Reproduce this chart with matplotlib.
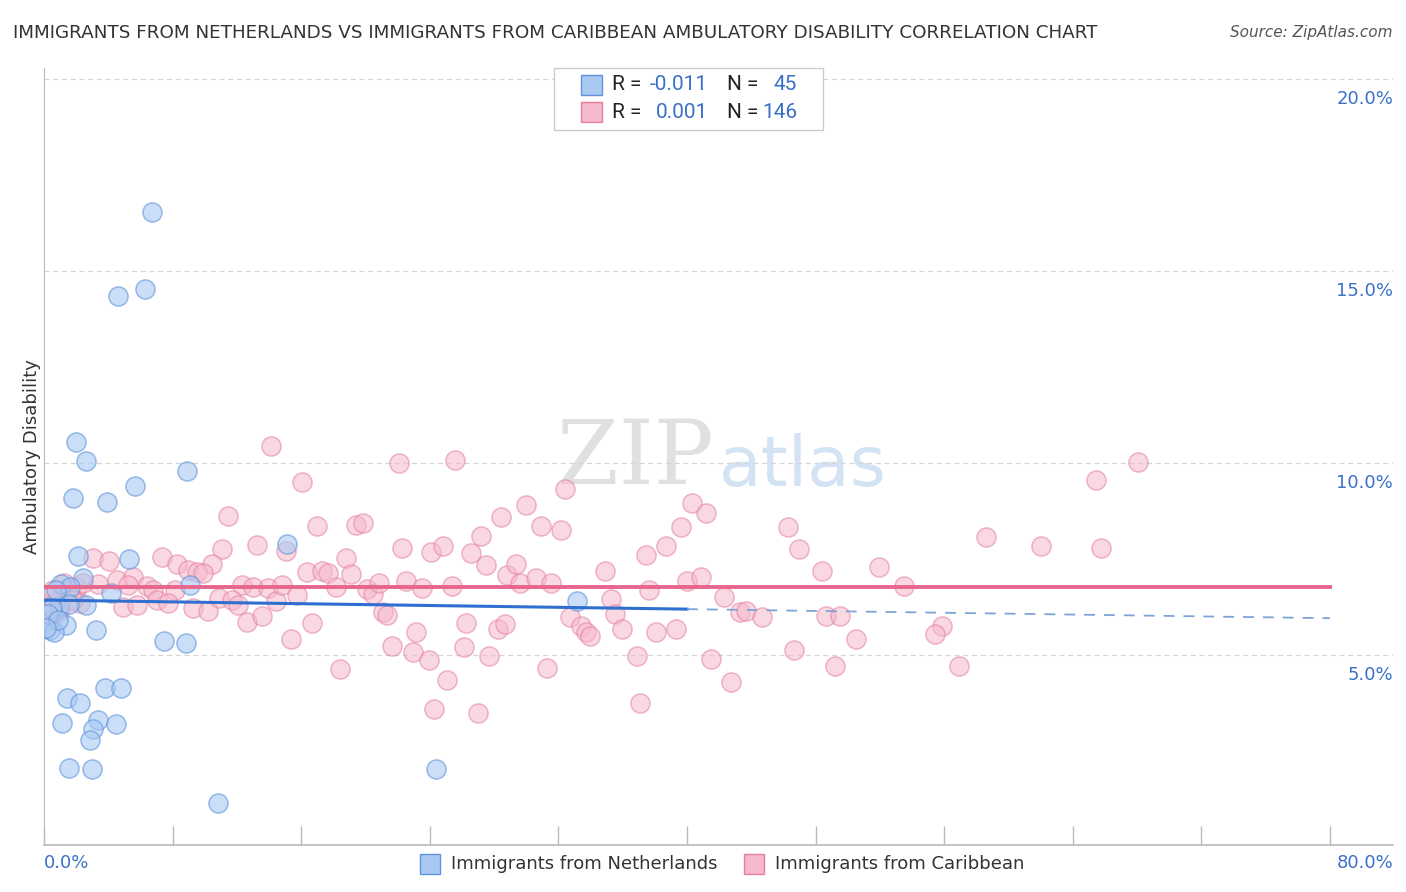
import matplotlib.pyplot as plt
from matplotlib.patches import Rectangle
import numpy as np

# Data (percent values)
neth_x = [6.72, 4.60, 6.28, 1.99, 2.61, 8.90, 5.66, 1.80, 3.92, 15.12,
          2.12, 5.29, 1.06, 2.43, 1.62, 4.17, 9.08, 2.61, 0.93, 1.56,
          0.50, 1.37, 3.23, 0.37, 0.62, 7.47, 8.83, 33.16, 3.79, 4.79,
          1.43, 2.24, 1.12, 3.36, 4.48, 3.05, 2.86, 1.56, 2.99, 24.39,
          10.82, 0.75, 0.25, 0.87, 0.12]
neth_y = [16.54, 14.35, 14.53, 10.55, 10.05, 9.79, 9.40, 9.09, 8.98, 7.89,
          7.58, 7.50, 6.85, 7.00, 6.77, 6.61, 6.82, 6.30, 6.28, 6.33,
          6.22, 5.78, 5.65, 5.65, 5.60, 5.36, 5.31, 6.41, 4.14, 4.14,
          3.88, 3.75, 3.23, 3.31, 3.20, 3.07, 2.79, 2.06, 2.03, 2.03,
          1.15, 6.69, 6.07, 5.91, 5.70]

carib_x = [0.37, 0.68, 1.00, 0.56, 1.62, 2.05, 2.24, 1.80, 0.37, 0.81,
           1.24, 14.12, 11.45, 13.25, 11.07, 3.05, 4.04, 7.34, 8.27, 10.45,
           8.96, 9.52, 9.89, 4.54, 5.54, 2.43, 3.36, 5.23, 6.41, 6.78,
           8.15, 12.32, 13.00, 13.93, 4.91, 5.79, 7.03, 7.71, 9.27, 10.20,
           10.89, 11.70, 12.07, 12.63, 13.56, 14.43, 22.08, 25.57, 16.05, 16.98,
           19.41, 19.84, 28.43, 27.19, 15.05, 18.79, 22.27, 24.08, 24.82, 26.56,
           27.50, 28.80, 16.36, 17.29, 17.67, 19.10, 14.81, 15.74, 18.17, 20.09,
           20.47, 20.84, 22.52, 23.52, 25.38, 21.09, 21.34, 16.67, 26.25, 28.24,
           28.68, 15.37, 23.14, 21.65, 22.96, 23.95, 26.13, 27.68, 18.41, 25.07,
           24.26, 27.00, 32.41, 29.98, 30.92, 32.16, 40.31, 41.18, 39.63, 38.69,
           37.45, 29.36, 29.61, 30.61, 31.54, 34.90, 40.00, 40.87, 37.64, 42.30,
           35.27, 35.52, 32.72, 33.41, 33.72, 33.97, 35.96, 38.07, 39.32, 36.89,
           41.49, 31.29, 42.74, 37.08, 43.30, 68.06, 65.44, 46.28, 46.97, 48.40,
           51.95, 53.50, 58.60, 62.02, 65.76, 43.67, 44.67, 48.65, 49.52, 50.51,
           55.86, 55.43, 46.66, 49.21, 56.92, 0.12]
carib_y = [6.51, 6.35, 6.17, 6.69, 6.69, 6.77, 6.35, 6.43, 5.91, 6.12,
           6.88, 10.44, 8.62, 7.86, 7.76, 7.53, 7.45, 7.55, 7.37, 7.37,
           7.21, 7.16, 7.14, 6.95, 7.03, 6.88, 6.85, 6.82, 6.80, 6.69,
           6.69, 6.82, 6.77, 6.74, 6.25, 6.30, 6.43, 6.35, 6.22, 6.15,
           6.48, 6.43, 6.30, 5.86, 6.02, 6.41, 10.00, 10.08, 9.51, 8.36,
           8.39, 8.44, 8.59, 8.10, 7.71, 7.53, 7.79, 7.68, 7.84, 7.66,
           7.34, 7.08, 7.16, 7.19, 7.14, 7.11, 6.82, 6.56, 6.77, 6.72,
           6.59, 6.88, 6.93, 6.74, 6.80, 6.12, 6.04, 5.83, 5.83, 5.68,
           5.81, 5.42, 5.60, 5.23, 5.08, 4.87, 5.21, 4.97, 4.64, 4.35,
           3.59, 3.49, 9.32, 8.91, 8.36, 8.26, 8.96, 8.70, 8.33, 7.84,
           7.60, 7.37, 6.88, 7.01, 6.88, 7.19, 6.93, 7.03, 6.69, 6.51,
           6.46, 6.07, 5.99, 5.76, 5.60, 5.49, 5.68, 5.60, 5.68, 4.97,
           4.90, 4.66, 4.30, 3.75, 6.12, 10.03, 9.56, 8.33, 7.76, 7.19,
           7.29, 6.80, 8.07, 7.84, 7.79, 6.15, 5.99, 6.02, 6.02, 5.42,
           5.76, 5.55, 5.13, 4.71, 4.71, 6.22]

# trend lines: intercept, slope (per % point)
neth_trend = (6.43, -0.0059)
carib_trend = (6.77, 0.0)

stats = [("-0.011", "45"), ("0.001", "146")]
series_names = ["Immigrants from Netherlands", "Immigrants from Caribbean"]
yticks = [5, 10, 15, 20]

blue_face = "#a9c9f2"
blue_edge = "#5f93dc"
pink_face = "#f6b8cb"
pink_edge = "#e47fa0"
blue_line = "#2f6fd0"
pink_line = "#e8668e"
label_blue = "#3a70c8"

fig = plt.figure(figsize=(14.06, 8.92), dpi=100)
ax = fig.add_axes([44 / 1406, 47 / 892, (1393 - 44) / 1406, (845 - 68) / 892])
ax.set_xlim(0, 83.92)
ax.set_ylim(0.05, 20.29)

# watermark
ax.text(36.8, 10.1, "ZIP", fontsize=64, family="DejaVu Serif", color="#d9d9d9",
        ha="center", va="center", alpha=0.8, zorder=0)
ax.text(47.2, 9.9, "atlas", fontsize=50, color="#c9dcf1", ha="center",
        va="center", alpha=0.8, zorder=0)

for v in yticks:
    ax.axhline(v, color="#d5d5d5", lw=0.9, ls=(0, (4, 3)), zorder=1)

ax.scatter(carib_x, carib_y, s=190, facecolor=pink_face, edgecolor=pink_edge,
           linewidth=1.1, alpha=0.55, zorder=2)
ax.scatter(neth_x, neth_y, s=190, facecolor=blue_face, edgecolor=blue_edge,
           linewidth=1.1, alpha=0.6, zorder=3)

xs = np.array([0, 40])
ax.plot(xs, neth_trend[0] + neth_trend[1] * xs, color=blue_line, lw=2.2, zorder=4)
xd = np.array([40, 80])
ax.plot(xd, neth_trend[0] + neth_trend[1] * xd, color="#7fa3d8", lw=1.3,
        ls=(0, (6, 5)), zorder=4)
xp = np.array([0, 80])
ax.plot(xp, carib_trend[0] + carib_trend[1] * xp, color=pink_line, lw=2.8, zorder=4)

# axes style
for s in ["top", "right"]:
    ax.spines[s].set_visible(False)
ax.spines["left"].set_color("#bbbbbb")
ax.spines["bottom"].set_color("#bbbbbb")
ax.spines["bottom"].set_linewidth(1.2)
ax.set_xticks(np.arange(0, 81, 8))
ax.set_xticklabels([])
ax.tick_params(axis="x", direction="in", length=14, color="#bbbbbb", width=1)
ax.set_yticks([])

for v in yticks:
    ax.annotate(f"{v:.1f}%", xy=(1.0, v), xycoords=("axes fraction", "data"),
                xytext=(0, -8), textcoords="offset points", ha="right", va="top",
                fontsize=13, color=label_blue)

fig.text(44 / 1406, 1 - 863 / 892, "0.0%", ha="left", va="center", fontsize=13, color=label_blue)
fig.text(1393 / 1406, 1 - 863 / 892, "80.0%", ha="right", va="center", fontsize=13, color=label_blue)

ax.set_ylabel("Ambulatory Disability", fontsize=13, color="#333333", labelpad=2)

fig.text(13 / 1406, 1 - 33 / 892, "IMMIGRANTS FROM NETHERLANDS VS IMMIGRANTS FROM CARIBBEAN AMBULATORY DISABILITY CORRELATION CHART",
         ha="left", va="center", fontsize=13.2, color="#333333")
fig.text(1393 / 1406, 1 - 33 / 892, "Source: ZipAtlas.com", ha="right", va="center",
         fontsize=11, color="#555555", style="italic")

# top legend box
fig.patches.append(Rectangle((554 / 1406, 1 - 130 / 892), 269 / 1406, 62 / 892,
                             transform=fig.transFigure, facecolor="white",
                             edgecolor="#cccccc", lw=1, zorder=5))
faces = [(blue_face, blue_edge), (pink_face, pink_edge)]
for i, ((r, n), (fc, ec)) in enumerate(zip(stats, faces)):
    yc = 1 - (85 + 27 * i) / 892
    fig.patches.append(Rectangle((581 / 1406, yc - 10 / 892), 21 / 1406, 20 / 892,
                                 transform=fig.transFigure, facecolor=fc,
                                 edgecolor=ec, lw=1, zorder=6))
    fig.text(612 / 1406, yc, "R = ", ha="left", va="center", fontsize=15,
             family="Roboto", color="#222222", zorder=7)
    fig.text(708 / 1406, yc, r, ha="right", va="center", fontsize=15,
             family="Roboto", color=label_blue, zorder=7)
    fig.text(727 / 1406, yc, "N = ", ha="left", va="center", fontsize=15,
             family="Roboto", color="#222222", zorder=7)
    fig.text(797 / 1406, yc, n, ha="right", va="center", fontsize=15,
             family="Roboto", color=label_blue, zorder=7)

# bottom legend
for x0, name, (fc, ec) in zip([420, 744], series_names, faces):
    fig.patches.append(Rectangle((x0 / 1406, 1 - 874 / 892), 20 / 1406, 20 / 892,
                                 transform=fig.transFigure, facecolor=fc,
                                 edgecolor=ec, lw=1))
    fig.text((x0 + 31) / 1406, 1 - 864 / 892, name, ha="left", va="center",
             fontsize=13, color="#333333")

fig.savefig("out.png", dpi=100)
